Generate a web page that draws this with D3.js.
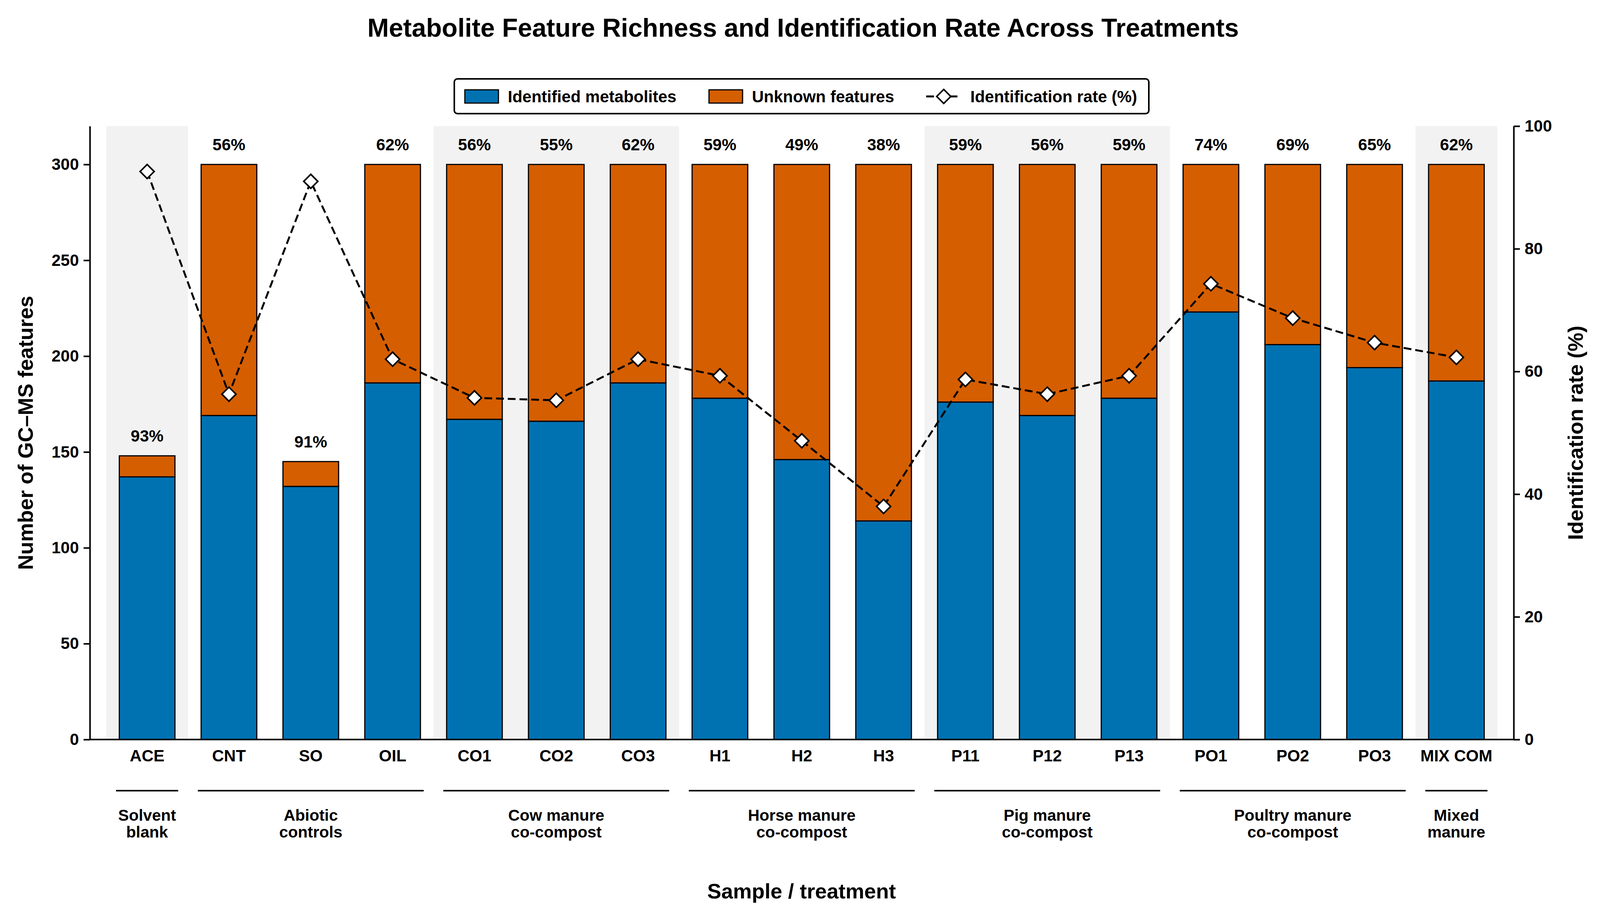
<!DOCTYPE html>
<html>
<head>
<meta charset="utf-8">
<script src="https://cdn.jsdelivr.net/npm/d3@7"></script>
<style>
  body { margin: 0; background: #fff; }
  text { font-family: "Liberation Sans", Arial, sans-serif; font-weight: bold; fill: #000; }
</style>
</head>
<body>
<div id="chart"></div>
<script>
const samples = ['ACE', 'CNT', 'SO', 'OIL', 'CO1', 'CO2', 'CO3', 'H1', 'H2', 'H3', 'P11', 'P12', 'P13', 'PO1', 'PO2', 'PO3', 'MIX COM']
const identified = [137, 169, 132, 186, 167, 166, 186, 178, 146, 114, 176, 169, 178, 223, 206, 194, 187]
const totalFeatures = [148, 300, 145, 300, 300, 300, 300, 300, 300, 300, 300, 300, 300, 300, 300, 300, 300]
const idRate = [92.6, 56.3, 91.0, 62.0, 55.7, 55.3, 62.0, 59.3, 48.7, 38.0, 58.7, 56.3, 59.3, 74.3, 68.7, 64.7, 62.3]
const rateLabels = ['93%', '56%', '91%', '62%', '56%', '55%', '62%', '59%', '49%', '38%', '59%', '56%', '59%', '74%', '69%', '65%', '62%']
const groupNames = [['Solvent', 'blank'], ['Abiotic', 'controls'], ['Cow manure', 'co-compost'], ['Horse manure', 'co-compost'],
  ['Pig manure', 'co-compost'], ['Poultry manure', 'co-compost'], ['Mixed', 'manure']]
const groupFirst = ['ACE', 'CNT', 'CO1', 'H1', 'P11', 'PO1', 'MIX COM']
const groupLast = ['ACE', 'OIL', 'CO3', 'H3', 'P13', 'PO3', 'MIX COM']
const leftTicks = [0, 50, 100, 150, 200, 250, 300]
const rightTicks = [0, 20, 40, 60, 80, 100]

const W = 4117, H = 2346
const m = { left: 230, right: 3875, top: 323, bottom: 1894 }
const blue = '#0072b2', orange = '#d55e00'

const svg = d3.select('#chart').append('svg')
  .attr('width', W).attr('height', H)

const x = d3.scaleBand()
  .domain(samples)
  .range([m.left, m.right])
  .paddingInner(0)
  .paddingOuter(0.2)
const step = x.step()
const cx = d => x(d) + step / 2
const barW = step * 0.68

const y = d3.scaleLinear().domain([0, 320]).range([m.bottom, m.top])
const y2 = d3.scaleLinear().domain([0, 100]).range([m.bottom, m.top])

// shaded groups
svg.append('g').selectAll('rect')
  .data(groupFirst.map((d, i) => ({ first: d, last: groupLast[i], i })).filter(d => d.i % 2 === 0))
  .enter().append('rect')
  .attr('x', d => x(d.first))
  .attr('width', d => x(d.last) + step - x(d.first))
  .attr('y', m.top)
  .attr('height', m.bottom - m.top)
  .attr('fill', '#f2f2f2')

const rows = samples.map((s, i) => ({ s, id: identified[i], tot: totalFeatures[i], rate: idRate[i], lab: rateLabels[i] }))

// stacked bars
const bars = svg.append('g')
bars.selectAll('.unk')
  .data(rows)
  .enter().append('rect')
  .attr('x', d => cx(d.s) - barW / 2)
  .attr('width', barW)
  .attr('y', d => y(d.tot))
  .attr('height', d => y(d.id) - y(d.tot))
  .attr('fill', orange)
  .attr('stroke', '#000').attr('stroke-width', 3)
bars.selectAll('.idf')
  .data(rows)
  .enter().append('rect')
  .attr('x', d => cx(d.s) - barW / 2)
  .attr('width', barW)
  .attr('y', d => y(d.id))
  .attr('height', d => y(0) - y(d.id))
  .attr('fill', blue)
  .attr('stroke', '#000').attr('stroke-width', 3)

// percentage labels
svg.append('g').selectAll('text')
  .data(rows)
  .enter().append('text')
  .attr('x', d => cx(d.s))
  .attr('y', d => y(d.tot) - 36)
  .attr('text-anchor', 'middle')
  .attr('font-size', 42)
  .text(d => d.lab)

// rate line
const line = d3.line().x(d => cx(d.s)).y(d => y2(d.rate))
svg.append('path')
  .datum(rows)
  .attr('d', line)
  .attr('fill', 'none')
  .attr('stroke', '#000')
  .attr('stroke-width', 5)
  .attr('stroke-dasharray', '20,10')

const diamond = d3.symbol().type(d3.symbolSquare).size(650)
svg.append('g').selectAll('path')
  .data(rows)
  .enter().append('path')
  .attr('d', diamond)
  .attr('transform', d => `translate(${cx(d.s)},${y2(d.rate)}) rotate(45)`)
  .attr('fill', '#fff')
  .attr('stroke', '#000')
  .attr('stroke-width', 4)

// axes
const styleAxis = g => {
  g.selectAll('.domain').attr('stroke-width', 4)
  g.selectAll('.tick line').attr('stroke-width', 4)
  g.selectAll('.tick text').attr('font-size', 42).attr('font-family', '"Liberation Sans", Arial, sans-serif').attr('font-weight', 'bold')
}
svg.append('g')
  .attr('transform', `translate(${m.left},0)`)
  .call(d3.axisLeft(y).tickValues(leftTicks).tickSize(16).tickPadding(12).tickSizeOuter(0))
  .call(styleAxis)
svg.append('g')
  .attr('transform', `translate(${m.right},0)`)
  .call(d3.axisRight(y2).tickValues(rightTicks).tickSize(16).tickPadding(12).tickSizeOuter(0))
  .call(styleAxis)
svg.append('g')
  .attr('transform', `translate(0,${m.bottom})`)
  .call(d3.axisBottom(x).tickSize(0).tickPadding(26).tickSizeOuter(0))
  .call(styleAxis)
  .call(g => g.select('.domain').attr('d', `M${m.left},0H${m.right}`))

// group brackets and labels
const groups = groupNames.map((n, i) => ({ n, a: cx(groupFirst[i]) - step * 0.38, b: cx(groupLast[i]) + step * 0.38 }))
const gg = svg.append('g')
gg.selectAll('line')
  .data(groups)
  .enter().append('line')
  .attr('x1', d => d.a).attr('x2', d => d.b)
  .attr('y1', 2025).attr('y2', 2025)
  .attr('stroke', '#000').attr('stroke-width', 4)
gg.selectAll('text')
  .data(groups)
  .enter().append('text')
  .attr('text-anchor', 'middle')
  .attr('font-size', 41)
  .attr('x', d => (d.a + d.b) / 2)
  .attr('y', 2102)
  .selectAll('tspan')
  .data(d => d.n.map(t => ({ t, xm: (d.a + d.b) / 2 })))
  .enter().append('tspan')
  .attr('x', d => d.xm)
  .attr('dy', (d, i) => i === 0 ? 0 : 43)
  .text(d => d.t)

// titles
svg.append('text')
  .attr('x', 2056).attr('y', 94)
  .attr('text-anchor', 'middle')
  .attr('font-size', 66)
  .text('Metabolite Feature Richness and Identification Rate Across Treatments')
svg.append('text')
  .attr('x', 2052).attr('y', 2301)
  .attr('text-anchor', 'middle')
  .attr('font-size', 54)
  .text('Sample / treatment')
svg.append('text')
  .attr('transform', `translate(84,${(m.top + m.bottom) / 2}) rotate(-90)`)
  .attr('text-anchor', 'middle')
  .attr('font-size', 54)
  .text('Number of GC–MS features')
svg.append('text')
  .attr('transform', `translate(4052,${(m.top + m.bottom) / 2}) rotate(-90)`)
  .attr('text-anchor', 'middle')
  .attr('font-size', 54)
  .text('Identification rate (%)')

// legend
const lg = svg.append('g')
lg.append('rect')
  .attr('x', 1163).attr('y', 202).attr('width', 1778).attr('height', 89)
  .attr('rx', 8).attr('fill', '#fff').attr('stroke', '#000').attr('stroke-width', 4)
const legendItems = [
  { kind: 'patch', color: blue, label: 'Identified metabolites', x0: 1190 },
  { kind: 'patch', color: orange, label: 'Unknown features', x0: 1815 },
  { kind: 'line', label: 'Identification rate (%)', x0: 2371 }
]
legendItems.forEach(it => {
  if (it.kind === 'patch') {
    lg.append('rect').attr('x', it.x0).attr('y', 230).attr('width', 86).attr('height', 34)
      .attr('fill', it.color).attr('stroke', '#000').attr('stroke-width', 3)
  } else {
    lg.append('line').attr('x1', it.x0).attr('x2', it.x0 + 90).attr('y1', 247).attr('y2', 247)
      .attr('stroke', '#000').attr('stroke-width', 5).attr('stroke-dasharray', '20,10')
    lg.append('path').attr('d', diamond).attr('transform', `translate(${it.x0 + 45},247) rotate(45)`)
      .attr('fill', '#fff').attr('stroke', '#000').attr('stroke-width', 4)
  }
  lg.append('text').attr('x', it.x0 + (it.kind === 'patch' ? 110 : 113)).attr('y', 262)
    .attr('font-size', 42).text(it.label)
})
</script>
</body>
</html>
